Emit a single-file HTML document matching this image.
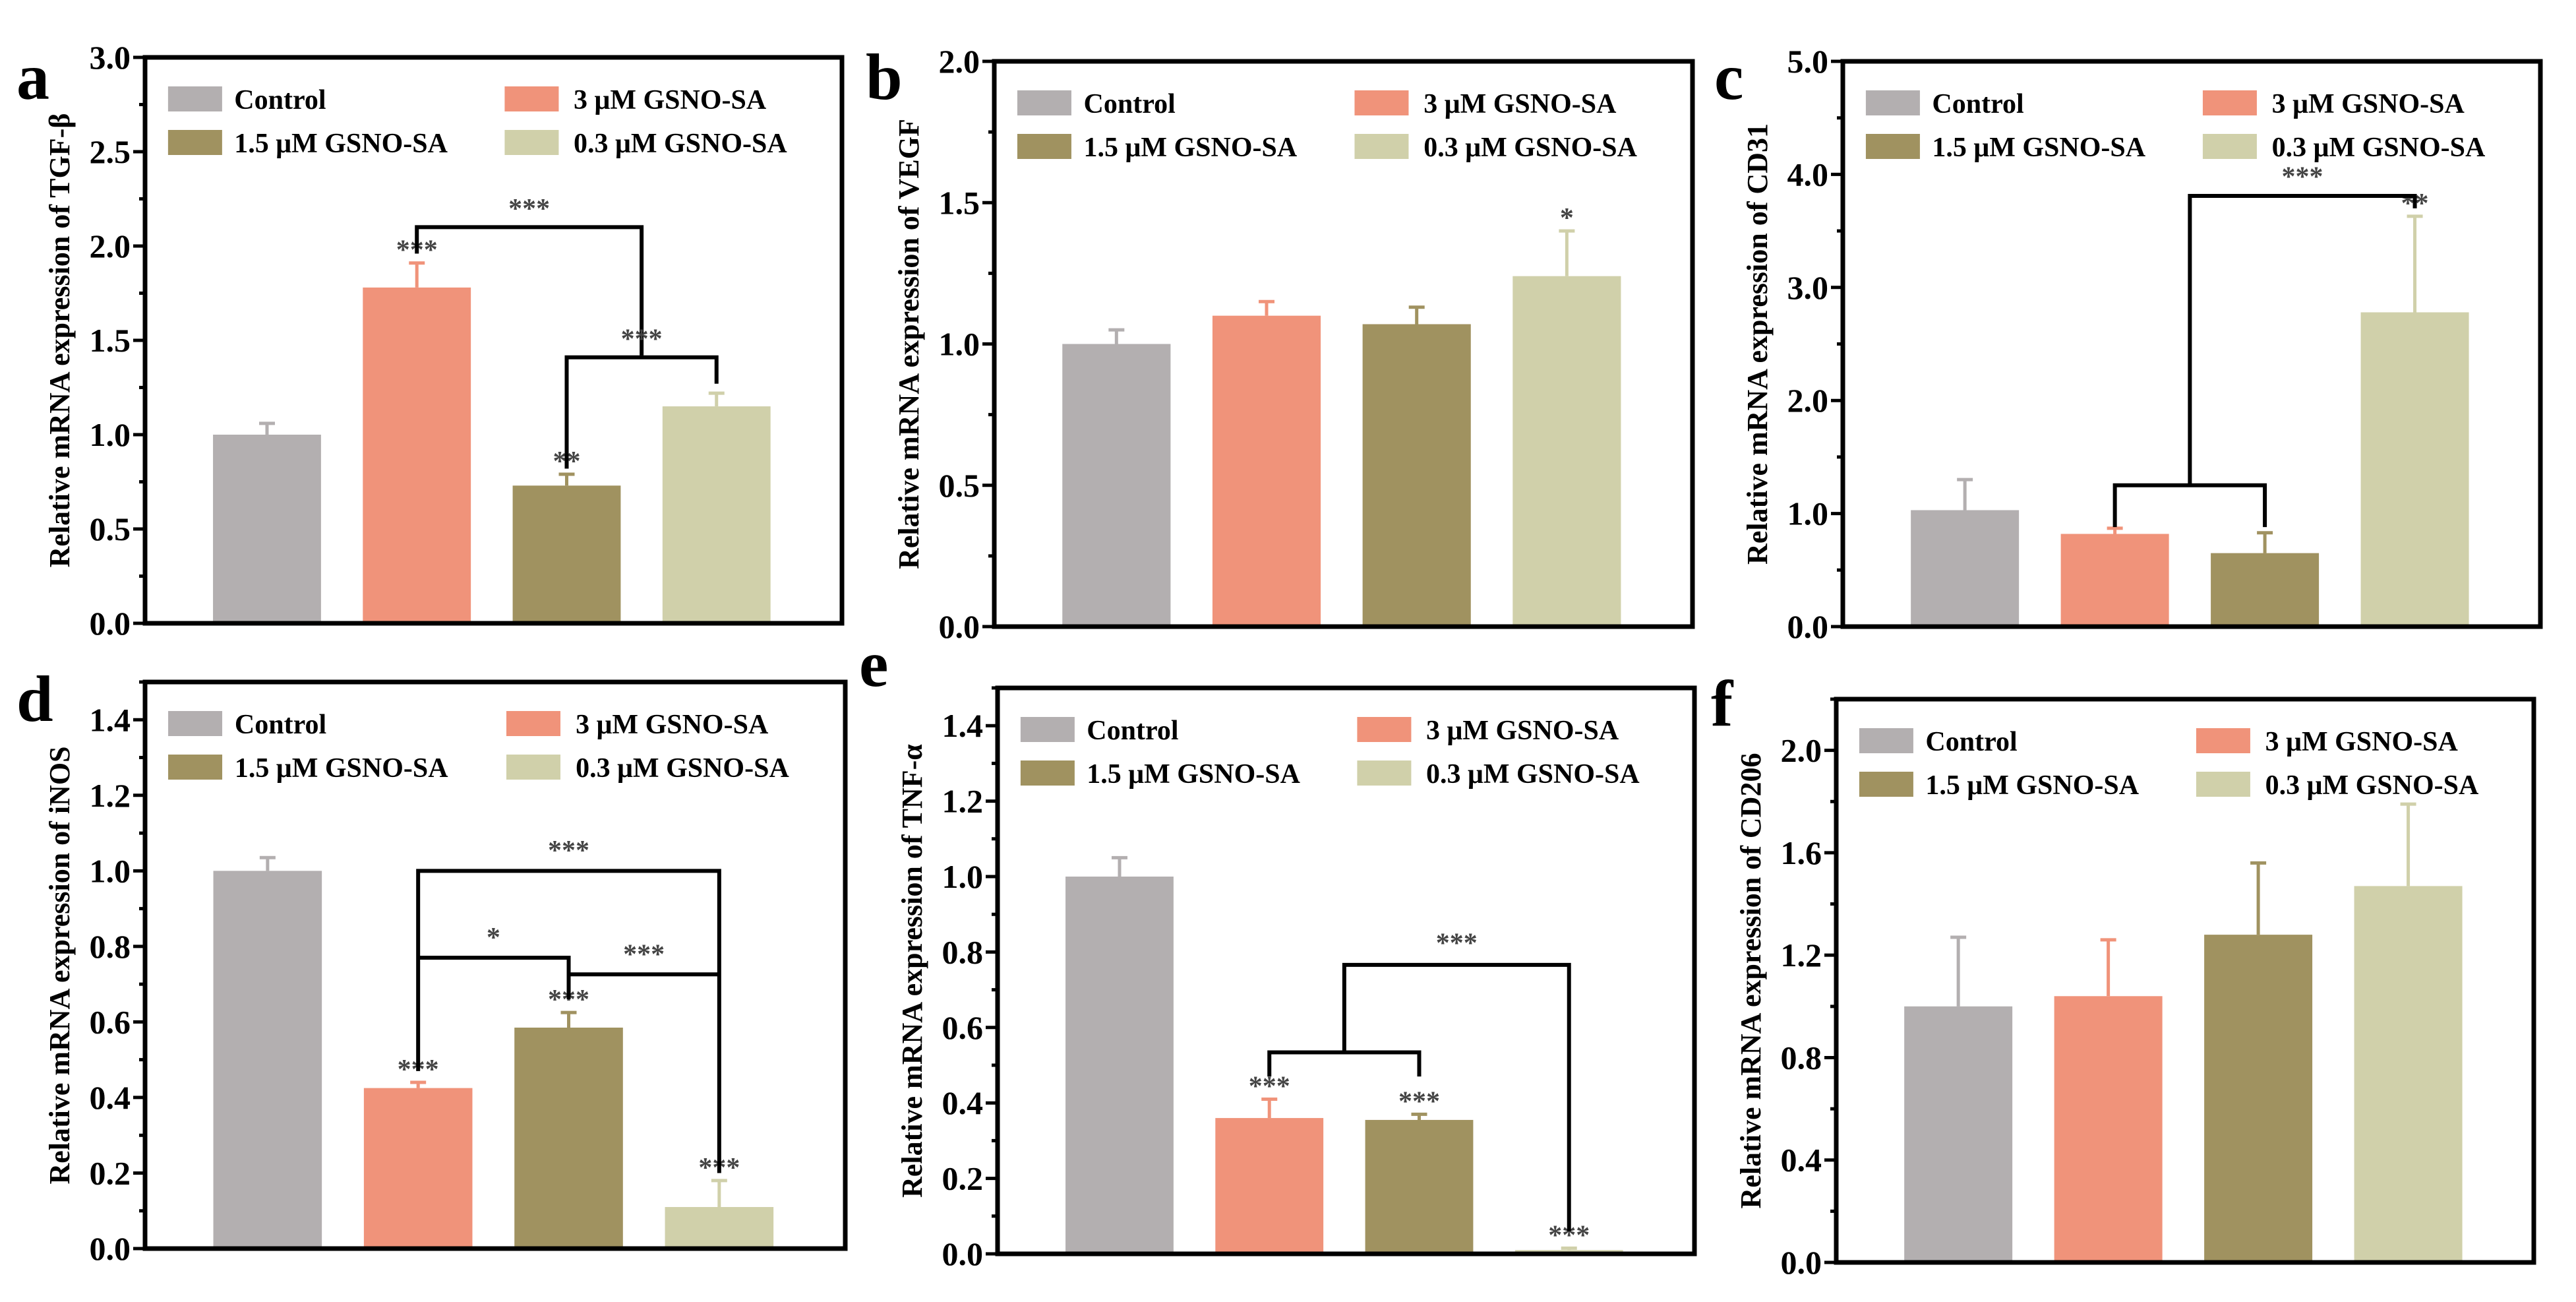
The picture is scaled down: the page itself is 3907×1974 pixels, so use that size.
<!DOCTYPE html>
<html><head><meta charset="utf-8"><style>
html,body{margin:0;padding:0;background:#fff;}
svg{display:block;}
text{font-family:"Liberation Serif",serif;font-weight:bold;}
</style></head><body>
<svg id="fig" width="3907" height="1974" viewBox="0 0 3907 1974" xmlns="http://www.w3.org/2000/svg"></svg>
<script>
const categories = ["Control","3 μM GSNO-SA","1.5 μM GSNO-SA","0.3 μM GSNO-SA"];
const colors = ["#b3afb0","#f0937a","#a09260","#d0d0aa"];
const aValues = [1.0,1.78,0.73,1.15];
const aErrors = [0.06,0.13,0.06,0.07];
const bValues = [1.0,1.1,1.07,1.24];
const bErrors = [0.05,0.05,0.06,0.16];
const cValues = [1.03,0.82,0.65,2.78];
const cErrors = [0.27,0.05,0.18,0.85];
const dValues = [1.0,0.425,0.585,0.11];
const dErrors = [0.035,0.015,0.04,0.07];
const eValues = [1.0,0.36,0.355,0.01];
const eErrors = [0.05,0.05,0.015,0.005];
const fValues = [1.0,1.04,1.28,1.47];
const fErrors = [0.27,0.22,0.28,0.32];
const aTicks = ["0.0","0.5","1.0","1.5","2.0","2.5","3.0"];
const bTicks = ["0.0","0.5","1.0","1.5","2.0"];
const cTicks = ["0.0","1.0","2.0","3.0","4.0","5.0"];
const dTicks = ["0.0","0.2","0.4","0.6","0.8","1.0","1.2","1.4"];
const eTicks = ["0.0","0.2","0.4","0.6","0.8","1.0","1.2","1.4"];
const fTicks = ["0.0","0.4","0.8","1.2","1.6","2.0"];

const NS="http://www.w3.org/2000/svg";
const svg=document.getElementById('fig');
function mk(tag,attrs,parent,txt){const e=document.createElementNS(NS,tag);for(const k in attrs)e.setAttribute(k,attrs[k]);if(txt!==undefined)e.textContent=txt;(parent||svg).appendChild(e);return e;}

const panels=[
 {id:'a',L:220,R:1277,T:87,B:945,ymax:3.0,minor:0.25,ticks:aTicks,vals:aValues,errs:aErrors,title:"Relative mRNA expression of TGF-β",lx:25,ly:150,
  stars:[["***",1],["**",2]],
  brackets:[[[1,1.96],[1,2.1],[2.5,2.1],[2.5,1.42]],[[2,0.82],[2,1.41],[3,1.41],[3,1.27]]],
  blabels:[["***",1.75,2.15],["***",2.5,1.46]]},
 {id:'b',L:1508,R:2567,T:93,B:950,ymax:2.0,minor:0.25,ticks:bTicks,vals:bValues,errs:bErrors,title:"Relative mRNA expression of VEGF",lx:1313,ly:150,
  stars:[["*",3]],brackets:[],blabels:[]},
 {id:'c',L:2795,R:3853,T:93,B:950,ymax:5.0,minor:0.5,ticks:cTicks,vals:cValues,errs:cErrors,title:"Relative mRNA expression of CD31",lx:2600,ly:150,
  stars:[["**",3]],
  brackets:[[[1,0.88],[1,1.25],[2,1.25],[2,0.88]],[[1.5,1.25],[1.5,3.81],[3,3.81],[3,3.7]]],
  blabels:[["***",2.25,3.9]]},
 {id:'d',L:220,R:1282,T:1034,B:1893,ymax:1.5,minor:0.1,ticks:dTicks,vals:dValues,errs:dErrors,title:"Relative mRNA expression of iNOS",lx:25,ly:1093,
  stars:[["***",1],["***",2],["***",3]],
  brackets:[[[1,0.47],[1,1.0],[3,1.0],[3,0.2]],[[1,0.77],[2,0.77],[2,0.66]],[[2,0.726],[3,0.726]]],
  blabels:[["***",2,1.03],["*",1.5,0.8],["***",2.5,0.755]]},
 {id:'e',L:1513,R:2570,T:1043,B:1901,ymax:1.5,minor:0.1,ticks:eTicks,vals:eValues,errs:eErrors,title:"Relative mRNA expression of TNF-α",lx:1303,ly:1040,
  stars:[["***",1],["***",2],["***",3]],
  brackets:[[[1,0.47],[1,0.534],[2,0.534],[2,0.47]],[[1.5,0.534],[1.5,0.766],[3,0.766],[3,0.06]]],
  blabels:[["***",2.25,0.8]]},
 {id:'f',L:2785,R:3843,T:1060,B:1914,ymax:2.2,minor:0.2,ticks:fTicks,vals:fValues,errs:fErrors,title:"Relative mRNA expression of CD206",lx:2595,ly:1100,
  stars:[],brackets:[],blabels:[]}
];
const centers=[0.175,0.39,0.605,0.82];

panels.forEach(p=>{
  const g=mk('g',{});
  
  
  const W=p.R-p.L;
  const y=v=>p.B-(v/p.ymax)*(p.B-p.T);
  const x=i=>p.L+(centers[0]+i*(centers[1]-centers[0]))*W;
  const bw=0.155*W;
  const lt=mk('text',{x:p.lx,y:p.ly,'font-size':100},g,p.id);
  
  
  p.vals.forEach((v,i)=>{
    const r=mk('rect',{x:x(i)-bw/2,y:y(v),width:bw,height:p.B-y(v),fill:colors[i]},g);
    
    
    const top=y(v+p.errs[i]);
    const eb=mk('path',{d:`M${x(i)},${y(v)}V${top}M${x(i)-12},${top}H${x(i)+12}`,stroke:colors[i],'stroke-width':5,fill:'none'},g);
    
    
  });
  p.stars.forEach(s=>{
    const i=s[1];
    const t=mk('text',{x:x(i),y:y(p.vals[i]+p.errs[i])-6,'font-size':42,'text-anchor':'middle',fill:'#444'},g,s[0]);
    
    
  });
  p.brackets.forEach(b=>{
    const d=b.map((pt,k)=>(k?'L':'M')+x(pt[0])+','+y(pt[1])).join('');
    const path=mk('path',{d:d,stroke:'#000','stroke-width':6,fill:'none'},g);
    
    
  });
  p.blabels.forEach(b=>{
    const t=mk('text',{x:x(b[1]),y:y(b[2]),'font-size':42,'text-anchor':'middle',fill:'#444'},g,b[0]);
    
    
  });
  const fr=mk('rect',{x:p.L,y:p.T,width:W,height:p.B-p.T,fill:'none',stroke:'#000','stroke-width':7},g);
  
  
  const nMinor=Math.round(p.ymax/p.minor);
  let td='';
  for(let k=0;k<=nMinor;k++){const v=k*p.minor;td+=`M${p.L},${y(v)}H${p.L-9}`;}
  p.ticks.forEach(t=>{const v=parseFloat(t);td+=`M${p.L},${y(v)}H${p.L-18}`;});
  const tk=mk('path',{d:td,stroke:'#000','stroke-width':5},g);
  
  
  p.ticks.forEach(t=>{
    const tl=mk('text',{x:p.L-22,y:y(parseFloat(t))+17,'font-size':50,'text-anchor':'end'},g,t);
    
    
  });
  const ty=(p.T+p.B)/2, tx=p.L-115;
  const tt=mk('text',{x:tx,y:ty,'font-size':44,'text-anchor':'middle',transform:`rotate(-90 ${tx} ${ty})`},g,p.title);
  
  
  const lx=[0.033,0.516], tx2=[0.128,0.615];
  categories.forEach((c,i)=>{
    const col=i%2,row=Math.floor(i/2);
    const cy=p.T+63+row*66;
    const sw=mk('rect',{x:p.L+lx[col]*W,y:cy-19,width:82,height:38,fill:colors[i]},g);
    
    
    const lt2=mk('text',{x:p.L+tx2[col]*W,y:cy+15,'font-size':42},g,c);
    
    
  });
});
</script>
</body></html>
